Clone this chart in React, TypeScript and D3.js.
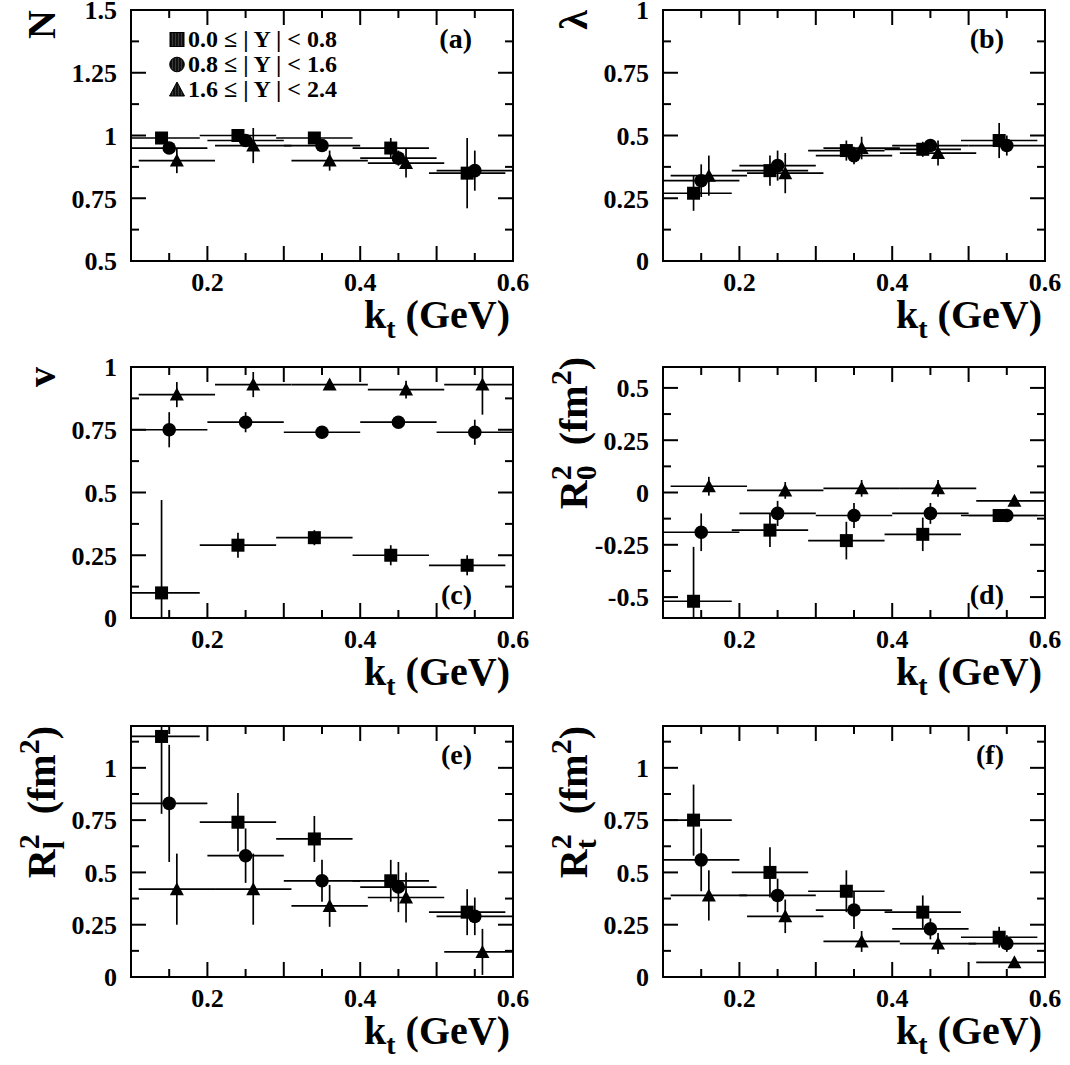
import React from 'react';
import * as d3 from 'd3';

const FONT = '"Liberation Serif", "Times New Roman", serif';

// k_t bin centres for the three rapidity classes (slightly shifted for visibility)
const ktSquare = [0.14, 0.24, 0.34, 0.44, 0.54];
const ktCircle = [0.15, 0.25, 0.35, 0.45, 0.55];
const ktTriangle = [0.16, 0.26, 0.36, 0.46, 0.56];
const ktHalfWidth = 0.05;

const legendLabels = ['0.0 \u2264 | Y | < 0.8', '0.8 \u2264 | Y | < 1.6', '1.6 \u2264 | Y | < 2.4'];

const xMajorTicks = [0.1, 0.2, 0.3, 0.4, 0.5, 0.6];
const xMinorTicks = [0.15, 0.25, 0.35, 0.45, 0.55];
const xTickLabels = [0.2, 0.4, 0.6];

// (a) N
const nSquare = [0.99, 1.0, 0.99, 0.95, 0.85];
const nSquareErr = [0.015, 0.015, 0.02, 0.04, 0.14];
const nCircle = [0.95, 0.98, 0.96, 0.91, 0.86];
const nCircleErr = [0.02, 0.02, 0.02, 0.03, 0.08];
const nTriangle = [0.9, 0.96, 0.9, 0.89];
const nTriangleErr = [0.05, 0.07, 0.04, 0.057];
const yLabelsA = [0.5, 0.75, 1, 1.25, 1.5];
const yMinorA = [0.625, 0.875, 1.125, 1.375];

// (b) lambda
const lamSquare = [0.27, 0.36, 0.44, 0.445, 0.48];
const lamSquareErr = [0.07, 0.06, 0.04, 0.03, 0.07];
const lamCircle = [0.32, 0.38, 0.42, 0.46, 0.46];
const lamCircleErr = [0.065, 0.06, 0.035, 0.02, 0.04];
const lamTriangle = [0.34, 0.35, 0.45, 0.43];
const lamTriangleErr = [0.08, 0.08, 0.045, 0.05];
const yLabelsB = [0, 0.25, 0.5, 0.75, 1];
const yMinorB = [0.125, 0.375, 0.625, 0.875];

// (c) v
const vSquare = [0.1, 0.29, 0.32, 0.25, 0.21];
const vSquareErr = [0.37, 0.05, 0.03, 0.04, 0.04];
const vCircle = [0.75, 0.78, 0.74, 0.78, 0.74];
const vCircleErr = [0.07, 0.04, 0.02, 0.02, 0.05];
const vTriangle = [0.89, 0.93, 0.93, 0.91, 0.93];
const vTriangleErr = [0.05, 0.05, 0.02, 0.035, 0.12];

// (d) R0^2
const r0Square = [-0.52, -0.18, -0.23, -0.2, -0.11];
const r0SquareErr = [0.26, 0.08, 0.09, 0.08, 0.03];
const r0Circle = [-0.19, -0.1, -0.11, -0.1, -0.11];
const r0CircleErr = [0.09, 0.06, 0.06, 0.05, 0.03];
const r0Triangle = [0.03, 0.01, 0.02, 0.02, -0.04];
const r0TriangleErr = [0.045, 0.04, 0.04, 0.04, 0.02];
const yLabelsD = [-0.5, -0.25, 0, 0.25, 0.5];
const yMinorD = [-0.375, -0.125, 0.125, 0.375];

// (e) Rl^2
const rlSquare = [1.15, 0.74, 0.66, 0.46, 0.31];
const rlSquareErr = [0.37, 0.14, 0.11, 0.1, 0.11];
const rlCircle = [0.83, 0.58, 0.46, 0.43, 0.29];
const rlCircleErr = [0.28, 0.13, 0.1, 0.12, 0.09];
const rlTriangle = [0.42, 0.42, 0.34, 0.38, 0.12];
const rlTriangleErr = [0.17, 0.17, 0.1, 0.12, 0.11];
const yLabelsE = [0, 0.25, 0.5, 0.75, 1];
const yMinorE = [0.125, 0.375, 0.625, 0.875, 1.125];

// (f) Rt^2
const rtSquare = [0.75, 0.5, 0.41, 0.31, 0.19];
const rtSquareErr = [0.17, 0.12, 0.1, 0.08, 0.05];
const rtCircle = [0.56, 0.39, 0.32, 0.23, 0.16];
const rtCircleErr = [0.15, 0.08, 0.09, 0.05, 0.04];
const rtTriangle = [0.39, 0.29, 0.17, 0.16, 0.07];
const rtTriangleErr = [0.12, 0.08, 0.05, 0.05, 0.02];

type Shape = 'square' | 'circle' | 'triangle';
type Series = { shape: Shape; kt: number[]; val: number[]; err: number[] };

const mk = (sq: number[], sqE: number[], ci: number[], ciE: number[], tr: number[], trE: number[]): Series[] => [
  { shape: 'square', kt: ktSquare, val: sq, err: sqE },
  { shape: 'circle', kt: ktCircle, val: ci, err: ciE },
  { shape: 'triangle', kt: ktTriangle, val: tr, err: trE },
];

const W = 382;
const colLeft = [131, 663];
const rowTop = [10, 367, 726];
const H = 251;

const panels = [
  { id: 'a', left: colLeft[0], top: rowTop[0], domain: [0.5, 1.5], yLabels: yLabelsA, yMinor: yMinorA, tag: '(a)', tagTop: true, title: 'N', titleShift: 0, legend: true, series: mk(nSquare, nSquareErr, nCircle, nCircleErr, nTriangle, nTriangleErr) },
  { id: 'b', left: colLeft[1], top: rowTop[0], domain: [0, 1], yLabels: yLabelsB, yMinor: yMinorB, tag: '(b)', tagTop: true, title: '\u03bb', titleShift: 0, series: mk(lamSquare, lamSquareErr, lamCircle, lamCircleErr, lamTriangle, lamTriangleErr) },
  { id: 'c', left: colLeft[0], top: rowTop[1], domain: [0, 1], yLabels: yLabelsB, yMinor: yMinorB, tag: '(c)', tagTop: false, title: 'v', titleShift: 0, series: mk(vSquare, vSquareErr, vCircle, vCircleErr, vTriangle, vTriangleErr) },
  { id: 'd', left: colLeft[1], top: rowTop[1], domain: [-0.6, 0.6], yLabels: yLabelsD, yMinor: yMinorD, tag: '(d)', tagTop: false, title: 'R', sub: '0', subW: 15, titleShift: 10, series: mk(r0Square, r0SquareErr, r0Circle, r0CircleErr, r0Triangle, r0TriangleErr) },
  { id: 'e', left: colLeft[0], top: rowTop[2], domain: [0, 1.2], yLabels: yLabelsE, yMinor: yMinorE, tag: '(e)', tagTop: true, title: 'R', sub: 'l', subW: 8.3, titleShift: 0, series: mk(rlSquare, rlSquareErr, rlCircle, rlCircleErr, rlTriangle, rlTriangleErr) },
  { id: 'f', left: colLeft[1], top: rowTop[2], domain: [0, 1.2], yLabels: yLabelsE, yMinor: yMinorE, tag: '(f)', tagTop: true, title: 'R', sub: 't', subW: 10, titleShift: 0, series: mk(rtSquare, rtSquareErr, rtCircle, rtCircleErr, rtTriangle, rtTriangleErr) },
];

function Marker({ shape, cx, cy, hatch, r = 6.5 }: { shape: Shape; cx: number; cy: number; hatch?: boolean; r?: number }) {
  const fill = hatch ? 'url(#hatch)' : '#000';
  const stroke = hatch ? '#000' : 'none';
  if (shape === 'square') {
    return <rect x={cx - r} y={cy - r} width={2 * r} height={2 * r} fill={fill} stroke={stroke} strokeWidth={1} />;
  }
  if (shape === 'circle') {
    return <circle cx={cx} cy={cy} r={r + 0.3} fill={fill} stroke={stroke} strokeWidth={1} />;
  }
  const pts = [[cx, cy - r - 0.5], [cx + r + 0.5, cy + r - 0.5], [cx - r - 0.5, cy + r - 0.5]].map((q) => q.join(',')).join(' ');
  return <polygon points={pts} fill={fill} stroke={stroke} strokeWidth={1} />;
}

function Panel({ p }: { p: any }) {
  const x = d3.scaleLinear().domain([0.1, 0.6]).range([p.left, p.left + W]);
  const y = d3.scaleLinear().domain(p.domain).range([p.top + H, p.top]);
  const right = p.left + W;
  const bottom = p.top + H;
  const clipId = `clip-${p.id}`;
  const [y0, y1] = p.domain;

  const titleX = p.left - 76;
  const titleY = p.top - p.titleShift;

  return (
    <g>
      <defs>
        <clipPath id={clipId}>
          <rect x={p.left} y={p.top} width={W} height={H} />
        </clipPath>
      </defs>

      {/* data */}
      <g clipPath={`url(#${clipId})`}>
        {p.series.map((s: Series) =>
          s.val.map((v, i) => {
            const k = s.kt[i];
            const lo = Math.max(0.1, k - ktHalfWidth);
            const hi = Math.min(0.6, k + ktHalfWidth);
            const e0 = Math.max(y0, v - s.err[i]);
            const e1 = Math.min(y1, v + s.err[i]);
            return (
              <g key={`${s.shape}-${i}`}>
                <line x1={x(lo)} x2={x(hi)} y1={y(v)} y2={y(v)} stroke="#000" strokeWidth={1.7} />
                <line x1={x(k)} x2={x(k)} y1={y(e0)} y2={y(e1)} stroke="#000" strokeWidth={1.7} />
                <Marker shape={s.shape} cx={x(k)} cy={y(v)} />
              </g>
            );
          })
        )}
      </g>

      {/* frame */}
      <rect x={p.left} y={p.top} width={W} height={H} fill="none" stroke="#000" strokeWidth={2} />

      {/* x ticks */}
      {xMajorTicks.map((t) => (
        <g key={`xM${t}`}>
          <line x1={x(t)} x2={x(t)} y1={bottom} y2={bottom - 15} stroke="#000" strokeWidth={2} />
          <line x1={x(t)} x2={x(t)} y1={p.top} y2={p.top + 15} stroke="#000" strokeWidth={2} />
        </g>
      ))}
      {xMinorTicks.map((t) => (
        <g key={`xm${t}`}>
          <line x1={x(t)} x2={x(t)} y1={bottom} y2={bottom - 8} stroke="#000" strokeWidth={2} />
          <line x1={x(t)} x2={x(t)} y1={p.top} y2={p.top + 8} stroke="#000" strokeWidth={2} />
        </g>
      ))}
      {xTickLabels.map((t) => (
        <text key={`xl${t}`} x={x(t)} y={bottom + 30} textAnchor="middle" fontFamily={FONT} fontWeight="bold" fontSize={26}>
          {String(t)}
        </text>
      ))}

      {/* y ticks */}
      {p.yLabels.map((t: number) => (
        <g key={`yM${t}`}>
          <line x1={p.left} x2={p.left + 15} y1={y(t)} y2={y(t)} stroke="#000" strokeWidth={2} />
          <line x1={right} x2={right - 15} y1={y(t)} y2={y(t)} stroke="#000" strokeWidth={2} />
          <text x={p.left - 14} y={y(t)} dy="0.36em" textAnchor="end" fontFamily={FONT} fontWeight="bold" fontSize={26}>
            {String(t)}
          </text>
        </g>
      ))}
      {p.yMinor.map((t: number) => (
        <g key={`ym${t}`}>
          <line x1={p.left} x2={p.left + 8} y1={y(t)} y2={y(t)} stroke="#000" strokeWidth={2} />
          <line x1={right} x2={right - 8} y1={y(t)} y2={y(t)} stroke="#000" strokeWidth={2} />
        </g>
      ))}

      {/* x title */}
      <text x={right - 3} y={bottom + 67} textAnchor="end" fontFamily={FONT} fontWeight="bold" fontSize={40} xmlSpace="preserve">
        k<tspan fontSize={28} dy={10}>t</tspan>
        <tspan dy={-10}> (GeV)</tspan>
      </text>

      {/* y title */}
      <text transform={`translate(${titleX},${titleY}) rotate(-90)`} textAnchor="end" fontFamily={FONT} fontWeight="bold" fontSize={40} xmlSpace="preserve">
        {p.sub ? (
          <>
            R
            <tspan fontSize={30} dy={9}>{p.sub}</tspan>
            <tspan fontSize={30} dx={-p.subW} dy={-25}>2</tspan>
            <tspan dy={16}>{'  (fm'}</tspan>
            <tspan fontSize={30} dy={-16}>2</tspan>
            <tspan dy={16}>)</tspan>
          </>
        ) : (
          p.title
        )}
      </text>

      {/* panel tag */}
      <text x={right - 41} y={p.tagTop ? p.top + 38 : bottom - 14} textAnchor="end" fontFamily={FONT} fontWeight="bold" fontSize={28}>
        {p.tag}
      </text>

      {/* legend */}
      {p.legend &&
        legendLabels.map((lab, i) => {
          const shape: Shape = (['square', 'circle', 'triangle'] as Shape[])[i];
          const by = p.top + 37 + i * 25;
          return (
            <g key={lab}>
              <Marker shape={shape} cx={177} cy={by - 7.5} r={7} hatch />
              <text x={188} y={by} fontFamily={FONT} fontWeight="bold" fontSize={24} xmlSpace="preserve">
                {lab}
              </text>
            </g>
          );
        })}
    </g>
  );
}

export default function App() {
  return (
    <svg width={1070} height={1065} style={{ position: 'absolute', left: 0, top: 0, background: '#fff' }}>
      <defs>
        <pattern id="hatch" width={3} height={3} patternUnits="userSpaceOnUse">
          <rect width={3} height={3} fill="#111" />
          <line x1={1.5} x2={1.5} y1={0} y2={3} stroke="#555" strokeWidth={0.6} />
        </pattern>
      </defs>
      <rect width={1070} height={1065} fill="#fff" />
      {panels.map((p) => (
        <Panel key={p.id} p={p} />
      ))}
    </svg>
  );
}
